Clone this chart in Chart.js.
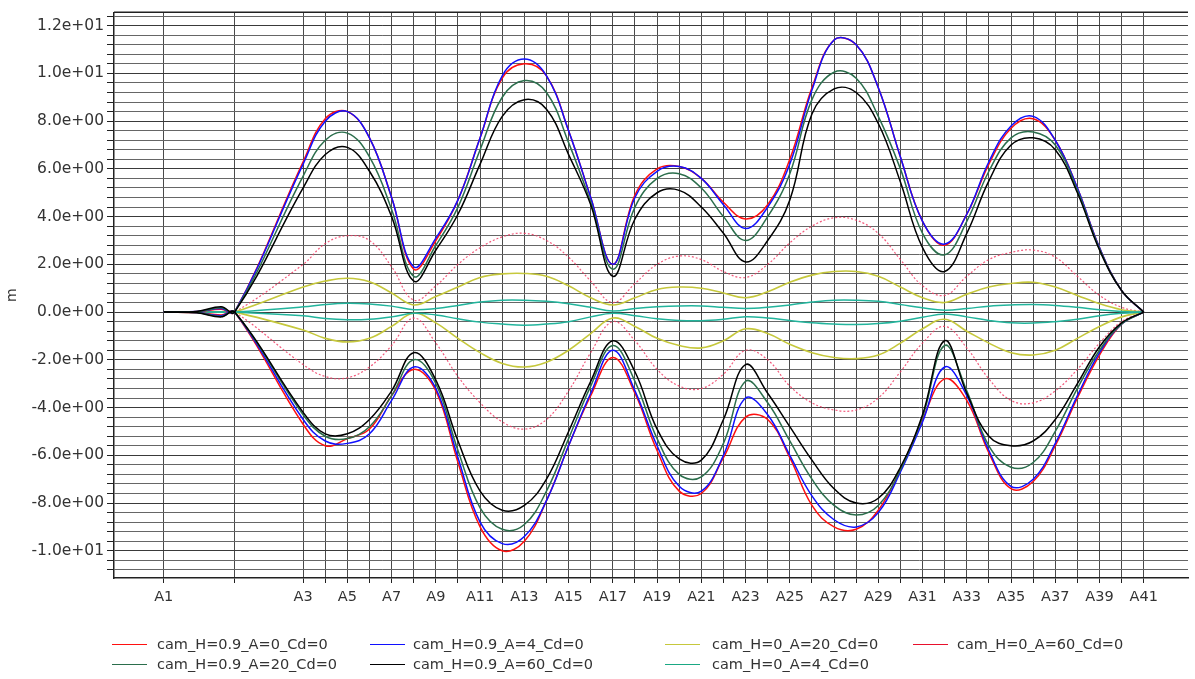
<!DOCTYPE html>
<html>
<head>
<meta charset="utf-8">
<script src="https://cdn.jsdelivr.net/npm/chart.js@4.4.0/dist/chart.umd.min.js"></script>
<style>
html,body{margin:0;padding:0;background:#fff;}
#wrap{position:relative;width:1195px;height:679px;}
#legend{position:absolute;left:0;top:0;width:1195px;height:679px;pointer-events:none;
  font:14.5px "DejaVu Sans",sans-serif;color:#333;}
#legend .ln{position:absolute;width:35px;height:0;border-top:1.6px solid;}
#legend .tx{position:absolute;white-space:nowrap;line-height:18px;}
</style>
</head>
<body>
<div id="wrap">
  <canvas id="chart" width="1195" height="679"></canvas>
  <div id="legend"></div>
</div>
<script>
// ===== DATA =====
// stations along the axis (A1..A41) and where they sit
const stations = ['A1','A2','A3','A4','A5','A6','A7','A8','A9','A10','A11','A12','A13','A14','A15','A16','A17','A18','A19','A20',
  'A21','A22','A23','A24','A25','A26','A27','A28','A29','A30','A31','A32','A33','A34','A35','A36','A37','A38','A39','A40','A41'];
const stationPos = [0,3.2,6.3,7.3,8.3,9.3,10.3,11.3,12.3,13.3,14.3,15.3,16.3,17.3,18.3,19.3,20.3,21.3,22.3,23.3,
  24.3,25.3,26.3,27.3,28.3,29.3,30.3,31.3,32.3,33.3,34.3,35.3,36.3,37.3,38.3,39.3,40.3,41.3,42.3,43.3,44.3];
// sample positions: A1, two readings between A1 and A2, then A2..A41
const sampleX = [0,1.5,2.6].concat(stationPos.slice(1));

// envelopes (max / min), values at sampleX
const h09a0Max  = [0,0.02,0.12,0, 6.3,8.1,8.4,7.3,4.8,1.8,3.0,4.7,7.3,9.8,10.4,9.9,7.6,4.8,2.0,4.9,6.0,6.1,5.6,4.6,3.9,4.5,6.4,9.4,11.4,11.2,9.4,6.5,3.8,2.8,4.1,6.2,7.7,8.1,7.2,5.2,2.7,0.9,0];
const h09a0Min  = [0,-0.02,-0.12,0, -4.7,-5.6,-5.3,-4.9,-3.5,-2.4,-3.3,-6.3,-9.0,-10.0,-9.6,-7.9,-5.6,-3.5,-1.9,-3.4,-5.8,-7.5,-7.6,-6.1,-4.4,-4.5,-6.1,-8.1,-9.0,-9.1,-8.3,-6.6,-4.5,-2.8,-3.7,-5.9,-7.4,-7.1,-5.6,-3.6,-1.8,-0.5,0];
const h09a4Max  = [0,0.02,0.15,0, 6.2,8.0,8.4,7.3,4.8,1.9,3.1,4.7,7.3,9.9,10.6,9.9,7.6,4.8,2.0,4.8,5.9,6.1,5.6,4.5,3.5,4.4,6.2,9.3,11.4,11.2,9.4,6.5,3.8,2.85,4.1,6.3,7.8,8.2,7.2,5.2,2.7,0.9,0];
const h09a4Min  = [0,-0.02,-0.15,0, -4.5,-5.4,-5.5,-5.1,-3.7,-2.3,-3.2,-6.1,-8.8,-9.7,-9.4,-7.9,-5.6,-3.4,-1.6,-3.3,-5.6,-7.3,-7.5,-6.0,-3.6,-4.3,-6.0,-7.7,-8.7,-9.0,-8.4,-6.7,-4.6,-2.3,-3.5,-5.8,-7.3,-7.0,-5.5,-3.5,-1.7,-0.5,0];
const h09a20Max = [0,0.02,0.18,0, 5.7,7.2,7.5,6.5,4.3,1.5,2.8,4.4,6.8,9.0,9.7,9.2,7.1,4.6,1.8,4.4,5.6,5.8,5.2,4.0,3.0,4.0,5.8,8.9,10.05,9.8,8.2,6.0,3.3,2.4,3.8,5.9,7.3,7.55,7.0,5.1,2.65,0.9,0];
const h09a20Min = [0,-0.02,-0.18,0, -4.3,-5.2,-5.3,-4.8,-3.5,-2.0,-3.0,-5.8,-8.2,-9.1,-8.9,-7.5,-5.3,-3.1,-1.4,-2.9,-5.3,-6.8,-6.9,-5.5,-2.9,-3.8,-5.4,-7.0,-8.1,-8.5,-8.1,-6.6,-4.4,-1.4,-3.3,-5.6,-6.5,-6.3,-5.0,-3.2,-1.6,-0.5,0];
const h09a60Max = [0,0.03,0.22,0, 5.2,6.6,6.9,5.9,4.0,1.3,2.6,4.1,6.2,8.2,8.9,8.5,6.6,4.5,1.5,3.9,5.0,5.1,4.4,3.3,2.1,3.0,4.7,8.3,9.35,9.2,7.9,5.45,2.7,1.7,3.3,5.5,7.0,7.3,6.8,5.0,2.6,0.9,0];
const h09a60Min = [0,-0.03,-0.2,0, -4.2,-5.1,-5.1,-4.5,-3.3,-1.7,-2.85,-5.4,-7.5,-8.3,-8.1,-7.0,-5.0,-2.9,-1.2,-2.5,-4.9,-6.15,-6.2,-4.5,-2.2,-3.4,-4.8,-6.2,-7.4,-8.0,-7.8,-6.5,-4.3,-1.2,-3.4,-5.2,-5.6,-5.4,-4.5,-3.0,-1.45,-0.45,0];
const h0a4Max   = [0,0,0,0, 0.22,0.32,0.37,0.34,0.25,0.1,0.15,0.28,0.42,0.5,0.5,0.45,0.35,0.2,0.05,0.15,0.22,0.26,0.26,0.2,0.15,0.2,0.3,0.42,0.5,0.5,0.45,0.32,0.18,0.08,0.15,0.25,0.3,0.32,0.28,0.2,0.1,0.03,0];
const h0a4Min   = [0,0,0,0, -0.15,-0.27,-0.32,-0.3,-0.2,-0.05,-0.12,-0.28,-0.42,-0.5,-0.55,-0.5,-0.4,-0.2,-0.05,-0.15,-0.28,-0.35,-0.36,-0.3,-0.2,-0.25,-0.35,-0.45,-0.5,-0.52,-0.48,-0.38,-0.22,-0.08,-0.2,-0.35,-0.45,-0.46,-0.4,-0.3,-0.15,-0.05,0];
const h0a20Max  = [0,0,0,0, 1.05,1.3,1.42,1.27,0.8,0.3,0.65,1.05,1.45,1.6,1.62,1.5,1.1,0.6,0.3,0.6,0.95,1.05,1.0,0.8,0.6,0.85,1.25,1.55,1.7,1.7,1.5,1.05,0.6,0.4,0.75,1.05,1.2,1.25,1.05,0.7,0.35,0.1,0];
const h0a20Min  = [0,0,0,0, -0.75,-1.1,-1.25,-1.1,-0.6,-0.05,-0.45,-1.1,-1.7,-2.15,-2.3,-2.1,-1.6,-0.9,-0.25,-0.6,-1.1,-1.4,-1.5,-1.2,-0.7,-0.9,-1.35,-1.7,-1.9,-1.95,-1.8,-1.3,-0.7,-0.3,-0.8,-1.3,-1.7,-1.8,-1.6,-1.1,-0.6,-0.2,0];
const h0a60Max  = [0,0,0,0, 2.0,2.87,3.2,3.0,1.9,0.5,1.1,2.0,2.7,3.15,3.3,3.0,2.3,1.3,0.4,1.2,2.0,2.35,2.2,1.7,1.45,2.0,2.9,3.6,3.95,3.85,3.3,2.2,1.1,0.7,1.5,2.2,2.5,2.6,2.3,1.5,0.7,0.2,0];
const h0a60Min  = [0,0,0,0, -2.2,-2.7,-2.75,-2.3,-1.4,-0.25,-1.3,-2.7,-3.8,-4.6,-4.9,-4.5,-3.3,-1.7,-0.4,-1.2,-2.4,-3.1,-3.2,-2.6,-1.6,-2.0,-3.1,-3.8,-4.1,-4.1,-3.6,-2.5,-1.3,-0.6,-1.5,-2.8,-3.7,-3.8,-3.3,-2.4,-1.3,-0.4,0];

const seriesNames = ['cam_H=0.9_A=0_Cd=0','cam_H=0.9_A=4_Cd=0','cam_H=0_A=20_Cd=0','cam_H=0_A=60_Cd=0',
  'cam_H=0.9_A=20_Cd=0','cam_H=0.9_A=60_Cd=0','cam_H=0_A=4_Cd=0'];

// ===== HELPERS =====
const pts = arr => sampleX.map((x,i)=>({x, y:arr[i]}));
const isMajor = v => Math.abs(v/2 - Math.round(v/2)) < 1e-6;
const sci = v => v.toExponential(1).replace(/e([+-])(\d+)$/, (m,s,d)=>'e'+s+d.padStart(2,'0'));

const yGrid = [];
for(let i=0;i<=58;i++) yGrid.push(Math.round((-10.8+0.4*i)*10)/10);

const series = [
  {name:seriesNames[5], max:h09a60Max, min:h09a60Min, color:'#000000', width:1.5},
  {name:seriesNames[4], max:h09a20Max, min:h09a20Min, color:'#2b6e4c', width:1.5},
  {name:seriesNames[1], max:h09a4Max,  min:h09a4Min,  color:'#1010ff', width:1.5},
  {name:seriesNames[0], max:h09a0Max,  min:h09a0Min,  color:'#ff1010', width:1.5},
  {name:seriesNames[6], max:h0a4Max,   min:h0a4Min,   color:'#22b49c', width:1.5},
  {name:seriesNames[2], max:h0a20Max,  min:h0a20Min,  color:'#c6c83c', width:1.6},
  {name:seriesNames[3], max:h0a60Max,  min:h0a60Min,  color:'rgba(240,60,100,0.85)', width:1.2, dash:[2,2]},
];

const datasets = [];
series.forEach(s=>{
  [s.max, s.min].forEach(arr=>datasets.push({
    label:s.name, data:pts(arr), borderColor:s.color, borderWidth:s.width,
    borderDash:s.dash||[], pointRadius:0, fill:false, tension:0.4
  }));
});

// ===== FRAME =====
const frame = {id:'frame', afterDatasetsDraw(c){
  const {ctx, chartArea:a} = c;
  ctx.save(); ctx.strokeStyle='#222'; ctx.lineWidth=1.5;
  ctx.beginPath(); ctx.moveTo(a.left,a.top); ctx.lineTo(a.right,a.top); ctx.stroke();
  ctx.restore();
}};

// ===== CHART =====
new Chart(document.getElementById('chart'),{
  type:'line',
  data:{datasets},
  plugins:[frame],
  options:{
    responsive:false, animation:false, devicePixelRatio:1,
    layout:{padding:{left:0, top:12, right:7, bottom:0}},
    plugins:{legend:{display:false}, tooltip:{enabled:false}},
    scales:{
      x:{
        type:'linear', min:-2.25, max:46.3,
        afterBuildTicks:s=>{ s.ticks = stationPos.map(v=>({value:v})); },
        afterFit:s=>{ s.height = 101; },
        grid:{color:'#4a4a4a', tickColor:'#222', tickLength:5, lineWidth:1},
        border:{color:'#222', width:1.5},
        ticks:{autoSkip:false, maxRotation:0, padding:6, color:'#333',
          font:{family:'DejaVu Sans', size:14.5},
          callback:(v,i)=> i%2===0 ? stations[i] : ''}
      },
      y:{
        min:-11.14, max:12.56,
        afterBuildTicks:s=>{ s.ticks = yGrid.map(v=>({value:v})); },
        afterFit:s=>{ s.width = 114; },
        grid:{color:c=> isMajor(c.tick.value) ? '#3a3a3a' : '#666', tickColor:'#222', tickLength:7, lineWidth:1},
        border:{color:'#222', width:1.5},
        title:{display:true, text:'m', color:'#333', font:{family:'DejaVu Sans', size:14}, padding:{top:4,bottom:0}},
        ticks:{autoSkip:false, padding:3, color:'#333',
          font:{family:'DejaVu Sans', size:15.5},
          callback:v=> isMajor(v) ? sci(v) : ''}
      }
    }
  }
});

// ===== LEGEND =====
const legendItems = [
  {name:seriesNames[0], color:'#ff1010', col:0, row:0},
  {name:seriesNames[1], color:'#1010ff', col:1, row:0},
  {name:seriesNames[2], color:'#c6c83c', col:2, row:0},
  {name:seriesNames[3], color:'#e8102c', col:3, row:0},
  {name:seriesNames[4], color:'#2b6e4c', col:0, row:1},
  {name:seriesNames[5], color:'#000000', col:1, row:1},
  {name:seriesNames[6], color:'#1aa884', col:2, row:1},
];
const legendCols = [{line:112,text:157},{line:370,text:413},{line:665,text:712},{line:913,text:957}];
const legendRows = [644,664];
document.getElementById('legend').innerHTML = legendItems.map(it=>{
  const c = legendCols[it.col], y = legendRows[it.row];
  return `<div class="ln" style="left:${c.line}px;top:${y}px;border-color:${it.color}"></div>
  <div class="tx" style="left:${c.text}px;top:${y-9}px">${it.name}</div>`;
}).join('');
</script>
</body>
</html>
